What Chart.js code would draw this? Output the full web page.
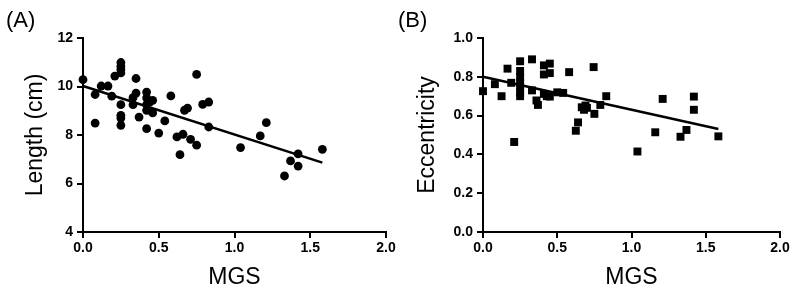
<!DOCTYPE html>
<html>
<head>
<meta charset="utf-8">
<script src="https://cdn.jsdelivr.net/npm/chart.js@4.4.0/dist/chart.umd.min.js"></script>
<style>
    body { margin: 0; background: #fff; }
    #wrap { position: relative; width: 800px; height: 291px; }
    .panel { position: absolute; top: 0; width: 400px; height: 291px; }
    .tag { position: absolute; top: 8px; font: 22px "Liberation Sans", Arial, sans-serif; color: #000; line-height: 24px; }
</style>
</head>
<body>
<div id="wrap">
    <canvas id="chartA" class="panel" style="left:0" width="400" height="291"></canvas>
    <canvas id="chartB" class="panel" style="left:400px" width="400" height="291"></canvas>
    <div class="tag" style="left:6px">(A)</div>
    <div class="tag" style="left:398px">(B)</div>
</div>
<script>
// panel A - length vs MGS
const mgsA = [0.00, 0.08, 0.08, 0.12, 0.165, 0.19, 0.21, 0.25, 0.25, 0.25, 0.25, 0.25, 0.25, 0.25, 0.25,
    0.35, 0.33, 0.33, 0.35, 0.37, 0.42, 0.42, 0.42, 0.42, 0.42, 0.44, 0.46, 0.46, 0.50, 0.54,
    0.58, 0.62, 0.64, 0.66, 0.67, 0.69, 0.71, 0.75, 0.75, 0.79, 0.83, 0.83,
    1.04, 1.17, 1.21, 1.33, 1.37, 1.42, 1.42, 1.58];
const lengthA = [10.28, 9.67, 8.49, 10.02, 10.02, 9.60, 10.43, 10.99, 10.83, 10.70, 10.56, 9.25, 8.81, 8.70, 8.40,
    10.33, 9.54, 9.25, 9.73, 8.74, 9.77, 9.53, 9.25, 9.02, 8.26, 9.36, 9.43, 8.91, 8.08, 8.58,
    9.61, 7.92, 7.19, 8.03, 9.02, 9.11, 7.82, 7.58, 10.50, 9.26, 9.36, 8.33,
    7.48, 7.96, 8.51, 6.31, 6.93, 7.22, 6.72, 7.41];
const fitMgsA = [0, 1.58];
const fitLengthA = [10.02, 6.86];

// panel B - eccentricity vs MGS
const mgsB = [0.00, 0.08, 0.125, 0.165, 0.19, 0.21, 0.25, 0.25, 0.25, 0.25, 0.25, 0.25, 0.25,
    0.33, 0.33, 0.36, 0.37, 0.41, 0.41, 0.41, 0.43, 0.45, 0.45, 0.45,
    0.50, 0.54, 0.58, 0.625, 0.64, 0.665, 0.68, 0.69, 0.70, 0.745, 0.75, 0.79, 0.83,
    1.04, 1.16, 1.21, 1.33, 1.37, 1.42, 1.42, 1.585];
const eccB = [0.726, 0.762, 0.700, 0.842, 0.769, 0.464, 0.88, 0.83, 0.80, 0.77, 0.75, 0.72, 0.70,
    0.89, 0.73, 0.678, 0.655, 0.859, 0.812, 0.712, 0.700, 0.868, 0.819, 0.698,
    0.720, 0.717, 0.824, 0.522, 0.565, 0.643, 0.630, 0.652, 0.640, 0.850, 0.609, 0.655, 0.700,
    0.415, 0.514, 0.686, 0.491, 0.526, 0.698, 0.630, 0.493];
const fitMgsB = [0, 1.585];
const fitEccB = [0.80, 0.531];

const xTicks = [0, 0.5, 1.0, 1.5, 2.0];
const xTickLabels = ['0.0', '0.5', '1.0', '1.5', '2.0'];
const yTicksA = [4, 6, 8, 10, 12];
const yTickLabelsA = ['4', '6', '8', '10', '12'];
const yTicksB = [0, 0.2, 0.4, 0.6, 0.8, 1.0];
const yTickLabelsB = ['0.0', '0.2', '0.4', '0.6', '0.8', '1.0'];

const FONT = '"Liberation Sans", Arial, sans-serif';

function toPoints(xs, ys) {
    return xs.map((x, i) => ({ x: x, y: ys[i] }));
}

function axis(ticks, labels, min, max, title, titlePad, size, horizontal) {
    return {
        type: 'linear',
        min: min,
        max: max,
        afterBuildTicks: (s) => { s.ticks = ticks.map(v => ({ value: v })); },
        afterFit: (s) => { if (horizontal) s.height = size; else s.width = size; },
        ticks: {
            color: '#000',
            padding: horizontal ? 2 : 4,
            autoSkip: false,
            maxRotation: 0,
            font: { family: FONT, size: 14, weight: 'bold' },
            callback: (v) => labels[ticks.indexOf(v)]
        },
        grid: { drawOnChartArea: false, drawTicks: true, tickLength: 6, color: '#000', lineWidth: 2 },
        border: { display: true, color: '#000', width: 2 },
        title: {
            display: true,
            text: title,
            color: '#000',
            padding: titlePad,
            font: { family: FONT, size: 23, weight: 'normal' }
        }
    };
}

function makeChart(id, pts, fit, style, radius, xAxis, yAxis, rightPad) {
    return new Chart(document.getElementById(id), {
        type: 'scatter',
        data: {
            datasets: [{
                data: pts,
                pointStyle: style,
                pointRadius: radius,
                pointBackgroundColor: '#000',
                pointBorderColor: '#000',
                pointBorderWidth: 0,
                clip: false
            }, {
                type: 'line',
                data: fit,
                borderColor: '#000',
                borderWidth: 2.5,
                pointRadius: 0,
                fill: false,
                clip: false
            }]
        },
        options: {
            responsive: false,
            animation: false,
            devicePixelRatio: 1,
            layout: { padding: { top: 38, right: rightPad, left: 0, bottom: 0 } },
            plugins: { legend: { display: false }, tooltip: { enabled: false } },
            scales: { x: xAxis, y: yAxis }
        }
    });
}

makeChart('chartA', toPoints(mgsA, lengthA), toPoints(fitMgsA, fitLengthA), 'circle', 4.4,
    axis(xTicks, xTickLabels, 0, 2, 'MGS', { top: 2, bottom: 0 }, 59, true),
    axis(yTicksA, yTickLabelsA, 4, 12, 'Length (cm)', { top: 22, bottom: 0 }, 83, false), 14);

makeChart('chartB', toPoints(mgsB, eccB), toPoints(fitMgsB, fitEccB), 'rect', 5.6,
    axis(xTicks, xTickLabels, 0, 2, 'MGS', { top: 2, bottom: 0 }, 59, true),
    axis(yTicksB, yTickLabelsB, 0, 1, 'Eccentricity', { top: 14, bottom: 0 }, 83, false), 20);
</script>
</body>
</html>
